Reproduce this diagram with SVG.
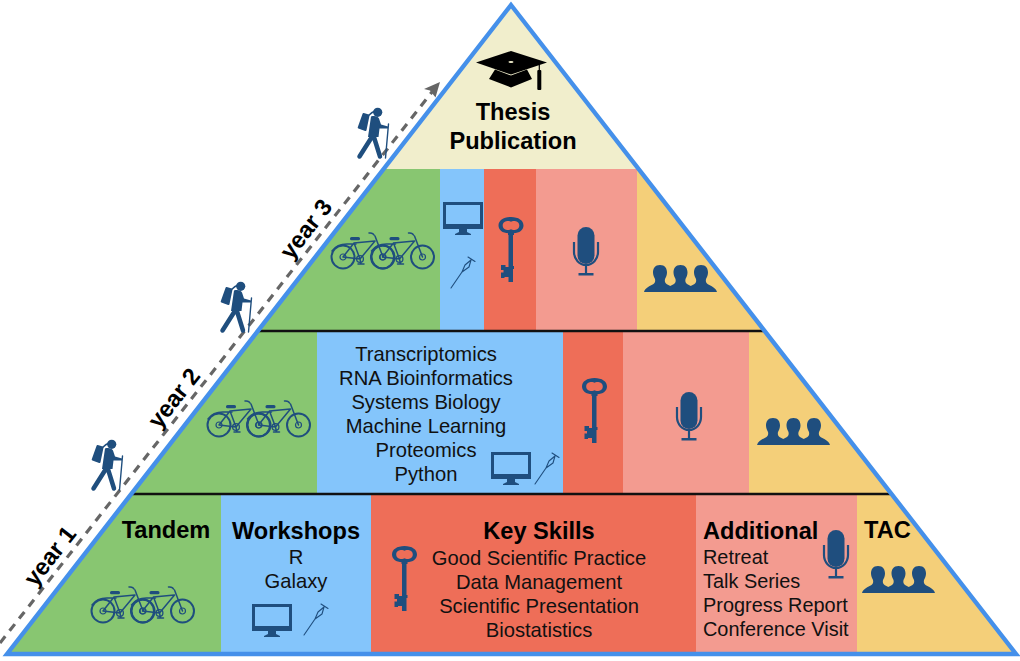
<svg xmlns="http://www.w3.org/2000/svg" width="1020" height="661" viewBox="0 0 1020 661">
<style>
.t{font-family:"Liberation Sans",Arial,sans-serif;font-size:20.2px;fill:#111;text-anchor:middle}
.a{font-size:19.9px}
.b{font-family:"Liberation Sans",Arial,sans-serif;font-size:23.6px;font-weight:bold;fill:#000;text-anchor:middle}
.s{text-anchor:start}
.green{fill:#88C671}.blue{fill:#84C5FB}.red{fill:#EE6E58}.pink{fill:#F39B90}.yellow{fill:#F4CF79}.cream{fill:#F1EECC}
.ln{fill:none;stroke:#1F4E7E;stroke-linecap:round;stroke-linejoin:round}
.f{fill:#1F4E7E}
.rule{stroke:#111;stroke-width:2.4}
</style>
<defs>
<clipPath id="tri"><polygon points="511,5 1016,654 7,654"/></clipPath>
<g id="onebike">
<circle class="ln" cx="0" cy="0" r="11.500" stroke-width="2"/><circle class="ln" cx="0" cy="0" r="3" stroke-width="1.200"/>
<circle class="ln" cx="40" cy="0" r="11.500" stroke-width="2"/><circle class="ln" cx="40" cy="0" r="3" stroke-width="1.200"/>
<circle class="ln" cx="17" cy="2" r="3.400" stroke-width="1.300"/>
<path class="ln" stroke-width="1.500" d="M0,0L17,2L11,-14L0,0M11,-14L32,-16L17,2M32,-21L40,0M31,-22Q30,-24.500 26,-24M-11,-6Q-6,-13 4,-13L13,-13M17,2L18,7M15,7L21,7"/>
<rect class="f" x="7" y="-20" width="10" height="3.200" rx="1.500"/>
</g>
<g id="bikes"><use href="#onebike"/><use href="#onebike" x="39.500"/></g>
<g id="monitor">
<path class="f" fill-rule="evenodd" d="M0,0H40V27H0ZM3,3V22H37V3Z"/>
<path class="f" d="M16,27H24V30L28,32V33H12V32L16,30Z"/>
</g>
<g id="crutch">
<path class="ln" stroke-width="1.100" d="M0,31L11,15L14,8L20,3M11,15L18,10L20,3M17,0L24,4.500"/>
</g>
<g id="key">
<path class="f" fill-rule="evenodd" d="M12.500,0C5,0 0,3.500 0,8.500C0,13.500 5,17 12.500,16C20,17 25,13.500 25,8.500C25,3.500 20,0 12.500,0ZM12.500,4.800C14,3.500 20.500,3.200 20.800,8.500C20.500,13.800 14,13.500 12.500,12.200C11,13.500 4.500,13.800 4.200,8.500C4.500,3.200 11,3.500 12.500,4.800Z"/>
<path class="f" d="M9.500,15H15.500V18H14.500V49H15.500V52H14.500V65H10V60H6V61H2.500V55.500H5V53H2.500V48H7V50H10V18H9.500Z"/>
</g>
<g id="mic">
<rect class="f" x="4.500" y="0" width="17" height="37" rx="8.500"/>
<path class="ln" stroke-width="2.200" style="stroke-linecap:butt" d="M1,15V25A12,13 0 0 0 25,25V15M13,38V47"/>
<rect class="f" x="5.500" y="46" width="15" height="2.500"/>
</g>
<g id="person">
<path d="M16,0C11,0 9,3.500 9,7.500C9,10 10,12 11,14C11.500,16 11,18 9.500,19C6,21 1,23 0,27H32C31,23 26,21 22.500,19C21,18 20.500,16 21,14C22,12 23,10 23,7.500C23,3.500 21,0 16,0Z"/>
</g>
<g id="people" class="f"><use href="#person" x="0"/><use href="#person" x="20.500"/><use href="#person" x="41"/></g>
<g id="hiker">
<circle class="f" cx="20.700" cy="4.300" r="4.600"/>
<path class="f" stroke="#1F4E7E" stroke-width="2" stroke-linejoin="round" d="M6.500,6L11.500,7.500L8.500,22L1.700,19.500Z"/>
<path class="f" d="M14,8.500C18,7.500 21,8.500 22,10.500L24,16.500L31,18.500V20.500L22.500,20.500L21.500,29H11Z"/>
<path class="ln" stroke-width="4.500" d="M15.500,28L2.500,48.500M16,26L23,48.500"/>
<path class="ln" stroke-width="1.400" d="M31.500,16L28.500,50M11,8Q15,4 18,3"/>
</g>
</defs>

<g clip-path="url(#tri)">
<g id="apex"><rect class="cream" x="0" y="0" width="1020" height="169"/></g>
<g id="y3-tandem"><rect class="green" x="0" y="169" width="440" height="162"/></g>
<g id="y3-workshops"><rect class="blue" x="440" y="169" width="44" height="162"/></g>
<g id="y3-keyskills"><rect class="red" x="484" y="169" width="52" height="162"/></g>
<g id="y3-additional"><rect class="pink" x="536" y="169" width="101" height="162"/></g>
<g id="y3-tac"><rect class="yellow" x="637" y="169" width="383" height="162"/></g>
<g id="y2-tandem"><rect class="green" x="0" y="331" width="317" height="163"/></g>
<g id="y2-workshops"><rect class="blue" x="317" y="331" width="246" height="163"/></g>
<g id="y2-keyskills"><rect class="red" x="563" y="331" width="60" height="163"/></g>
<g id="y2-additional"><rect class="pink" x="623" y="331" width="126" height="163"/></g>
<g id="y2-tac"><rect class="yellow" x="749" y="331" width="271" height="163"/></g>
<g id="y1-tandem"><rect class="green" x="0" y="494" width="221" height="160"/></g>
<g id="y1-workshops"><rect class="blue" x="221" y="494" width="150" height="160"/></g>
<g id="y1-keyskills"><rect class="red" x="371" y="494" width="325" height="160"/></g>
<g id="y1-additional"><rect class="pink" x="696" y="494" width="161" height="160"/></g>
<g id="y1-tac"><rect class="yellow" x="857" y="494" width="163" height="160"/></g>
</g>

<g id="connectors">
<line class="rule" x1="258" y1="331" x2="765" y2="331"/>
<line class="rule" x1="131" y1="494" x2="891" y2="494"/>
<line x1="0" y1="643" x2="432" y2="92" stroke="#666" stroke-width="3.200" stroke-dasharray="8.500 7"/>
<path d="M440,82L435.500,97.500L430,90.500L424,89Z" fill="#666"/>
</g>
<polygon id="outline" points="511,5 1016,654 7,654" fill="none" stroke="#4590EA" stroke-width="4.400"/>

<g id="apex-content">
<path d="M476,62.500L511,51L547,62.500L511,74.500Z" fill="#000"/>
<path d="M495,69.500L511,75.500L527,69.500L532,79L511,87.500L489,79Z" fill="#000"/>
<rect x="538.700" y="63" width="1.200" height="10" fill="#000"/>
<rect x="537.300" y="70" width="4" height="20" rx="1" fill="#000"/>
<ellipse cx="511" cy="62" rx="2.500" ry="1" fill="#F1EECC"/>
<text class="b" x="513" y="120">Thesis</text>
<text class="b" x="513" y="149">Publication</text>
</g>

<g id="year-labels">
<text class="b" transform="translate(50,556) rotate(-52)" dy="8">year 1</text>
<text class="b" transform="translate(174,398) rotate(-52)" dy="8">year 2</text>
<text class="b" transform="translate(306,229) rotate(-52)" dy="8">year 3</text>
</g>
<g id="hikers">
<use href="#hiker" x="91" y="440"/>
<use href="#hiker" x="220" y="282"/>
<use href="#hiker" x="357" y="108"/>
</g>

<g id="icons-y3">
<use href="#bikes" x="343" y="257"/>
<use href="#monitor" x="443" y="202"/>
<use href="#crutch" x="451" y="257"/>
<use href="#key" x="498.500" y="217"/>
<use href="#mic" x="573" y="227"/>
<use href="#people" x="644" y="265"/>
</g>
<g id="icons-y2">
<use href="#bikes" x="219" y="425"/>
<use href="#monitor" x="491" y="452"/>
<use href="#crutch" x="535" y="453"/>
<use href="#key" x="582" y="378"/>
<use href="#mic" x="676" y="392"/>
<use href="#people" x="757" y="418"/>
</g>
<g id="text-y2">
<text class="t" x="426" y="361">Transcriptomics</text>
<text class="t" x="426" y="385">RNA Bioinformatics</text>
<text class="t" x="426" y="409">Systems Biology</text>
<text class="t" x="426" y="433">Machine Learning</text>
<text class="t" x="426" y="457">Proteomics</text>
<text class="t" x="426" y="481">Python</text>
</g>
<g id="content-y1">
<text class="b" x="166" y="538">Tandem</text>
<use href="#bikes" x="103" y="611"/>
<text class="b" x="296" y="539">Workshops</text>
<text class="t" x="296" y="564">R</text>
<text class="t" x="296" y="588">Galaxy</text>
<use href="#monitor" x="252" y="604"/>
<use href="#crutch" x="304" y="604"/>
<text class="b" x="539" y="539">Key Skills</text>
<text class="t" x="539" y="565">Good Scientific Practice</text>
<text class="t" x="539" y="589">Data Management</text>
<text class="t" x="539" y="613">Scientific Presentation</text>
<text class="t" x="539" y="637">Biostatistics</text>
<use href="#key" x="392" y="546"/>
<text class="b s" x="703" y="539">Additional</text>
<text class="t s a" x="703" y="564">Retreat</text>
<text class="t s a" x="703" y="588">Talk Series</text>
<text class="t s a" x="703" y="612">Progress Report</text>
<text class="t s a" x="703" y="636">Conference Visit</text>
<use href="#mic" x="823" y="530"/>
<text class="b s" x="864" y="538">TAC</text>
<use href="#people" x="862" y="566"/>
</g>
</svg>
